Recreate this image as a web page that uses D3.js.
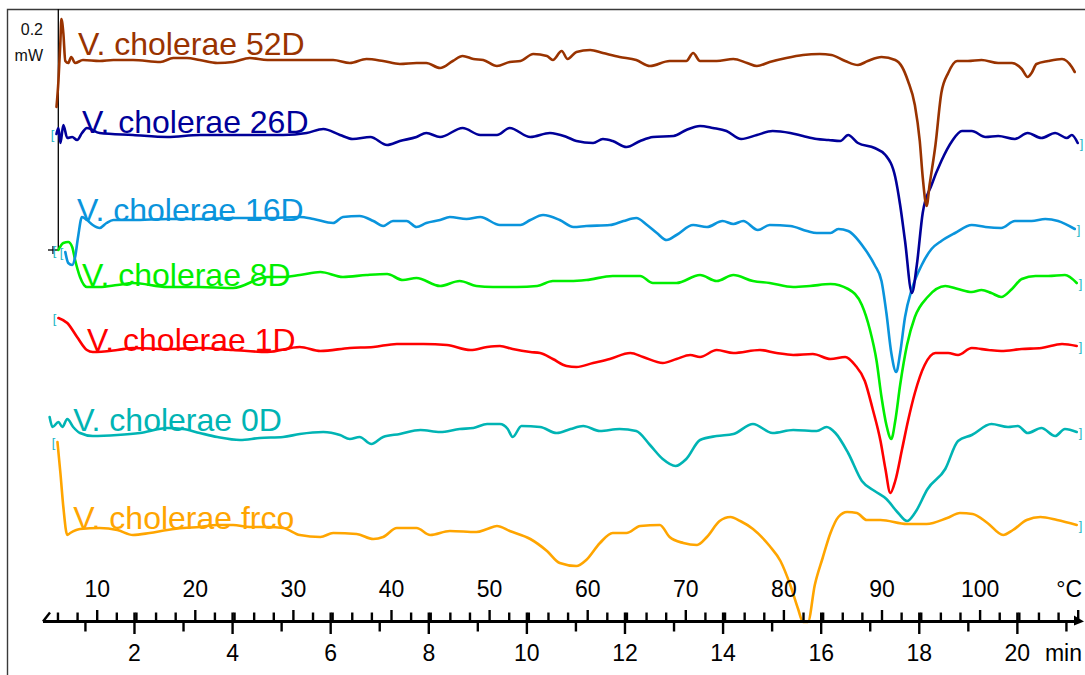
<!DOCTYPE html>
<html>
<head>
<meta charset="utf-8">
<script src="https://cdn.jsdelivr.net/npm/d3@7"></script>
<style>
  html, body { margin: 0; padding: 0; background: #fff; }
  svg { display: block; font-family: "Liberation Sans", Arial, sans-serif; }
</style>
</head>
<body>
<svg id="chart" width="1085" height="675"></svg>
<script>
// DSC heat-flow curves of V. cholerae samples, stacked with vertical offsets.
// Each point: [temperature °C, heat flow µW (offset included)]
const data52D = [[5.9,143],[6.1,169],[6.3,209],[6.4,231],[6.6,217],[6.8,189],[7.1,187],[7.4,193],[7.8,187],[8.6,190],[10.3,189],[11.7,190],[13.7,190],[16.5,188],[17.8,192],[19.2,192],[20.5,190],[22.3,187],[23.9,188],[25.6,192],[27.4,190],[29.0,190],[30.7,190],[32.4,190],[34.1,190],[35.8,187],[37.5,191],[39.2,189],[40.9,186],[42.6,187],[43.6,187],[45.0,182],[46.3,189],[47.3,194],[48.4,191],[49.4,190],[50.8,184],[52.1,188],[53.2,189],[54.5,196],[55.9,194],[56.5,190],[57.4,199],[58.0,191],[58.9,198],[60.3,200],[61.6,197],[63.3,193],[65.0,190],[66.4,184],[68.4,189],[70.1,189],[70.8,197],[71.5,189],[73.2,189],[74.9,191],[76.3,187],[77.3,184],[78.6,188],[80.3,192],[82.0,195],[83.7,196],[84.9,195],[86.3,189],[87.6,185],[88.6,189],[90.0,193],[91.4,190],[92.1,183],[92.7,169],[93.4,145],[93.9,109],[94.2,73],[94.6,44],[94.9,65],[95.5,105],[96.1,157],[96.8,177],[97.7,189],[98.8,189],[100.2,190],[101.9,187],[103.3,187],[104.3,181],[104.9,173],[105.3,177],[105.8,186],[107.0,189],[108.4,191],[109.4,183],[109.7,178]];

const data26D = [[5.9,116],[6.1,122],[6.3,107],[6.6,125],[7.0,112],[7.5,113],[8.0,110],[8.5,117],[9.0,122],[10.3,117],[13.7,115],[17.2,113],[20.5,115],[23.9,115],[29.0,115],[31.4,117],[33.1,121],[34.8,115],[36.1,111],[37.9,113],[39.6,105],[40.9,109],[42.6,113],[43.6,117],[45.0,113],[47.3,122],[49.1,115],[50.8,115],[52.1,122],[54.2,113],[56.2,117],[57.9,113],[58.9,109],[60.6,107],[61.6,111],[62.6,109],[64.0,103],[65.4,109],[66.7,113],[68.8,114],[70.1,120],[71.5,124],[72.8,122],[74.2,119],[75.7,111],[77.3,115],[78.9,119],[80.7,117],[82.0,114],[83.4,111],[84.6,110],[85.8,109],[86.6,115],[87.6,107],[89.3,102],[90.4,95],[91.4,73],[91.9,45],[92.4,9],[93.1,-43],[93.6,-15],[94.2,37],[95.1,65],[96.1,89],[97.2,109],[98.2,119],[99.2,119],[100.6,113],[101.9,114],[103.6,111],[104.9,117],[106.3,112],[107.7,117],[108.9,112],[109.4,115],[110.0,107]];

const data16D = [[6.8,-2],[7.1,-13],[7.5,-15],[7.8,-7],[8.1,13],[8.5,33],[9.0,30],[9.6,25],[10.3,22],[11.0,27],[11.7,30],[13.7,30],[17.2,31],[20.5,31],[23.9,32],[27.4,32],[30.7,33],[32.1,31],[34.1,27],[35.1,33],[36.8,34],[38.2,29],[39.2,24],[40.2,29],[41.6,29],[42.6,23],[43.6,27],[45.0,30],[46.0,33],[47.7,31],[49.1,33],[51.1,25],[53.2,25],[54.2,30],[55.5,35],[57.2,30],[58.6,23],[59.9,24],[62.3,25],[63.7,29],[65.0,32],[66.1,25],[67.1,17],[68.1,10],[69.1,15],[70.8,25],[72.2,23],[73.8,29],[74.9,26],[75.9,29],[77.4,20],[78.6,25],[80.7,24],[82.4,19],[83.4,17],[84.8,17],[85.6,21],[86.6,19],[88.3,1],[89.3,-15],[90.0,-31],[90.5,-63],[91.0,-103],[91.5,-122],[91.9,-103],[92.4,-67],[93.1,-39],[94.1,-15],[95.1,1],[96.1,9],[97.5,17],[99.2,25],[100.6,23],[102.2,22],[103.6,29],[105.3,29],[106.7,31],[108.0,29],[109.7,21]];

const data8D = [[6.1,0],[6.6,7],[7.1,8],[7.5,3],[7.8,-10],[8.3,-27],[9.0,-37],[10.3,-37],[12.1,-35],[13.7,-33],[17.2,-37],[20.5,-37],[23.9,-38],[27.4,-27],[29.0,-27],[30.7,-25],[32.8,-22],[35.1,-27],[37.5,-25],[39.6,-24],[41.2,-30],[42.6,-28],[45.0,-36],[47.0,-31],[48.7,-36],[50.4,-37],[52.8,-37],[54.9,-36],[56.5,-31],[58.3,-31],[59.9,-30],[62.6,-26],[65.4,-26],[66.7,-33],[69.1,-33],[71.5,-25],[73.2,-31],[74.9,-25],[76.9,-31],[78.6,-33],[81.0,-37],[82.7,-36],[84.8,-34],[86.6,-39],[88.0,-55],[88.8,-79],[89.5,-111],[90.0,-147],[90.5,-175],[91.0,-189],[91.4,-171],[91.9,-135],[92.6,-95],[93.4,-67],[94.7,-47],[96.5,-36],[97.8,-39],[99.2,-42],[100.2,-40],[101.2,-43],[102.2,-47],[103.3,-39],[104.3,-29],[105.7,-26],[107.0,-26],[108.7,-25],[109.9,-33]];

const data1D = [[6.1,-68],[7.0,-73],[8.0,-87],[9.0,-100],[9.6,-102],[12.1,-100],[13.7,-98],[17.2,-99],[20.5,-98],[23.9,-100],[27.4,-102],[30.7,-97],[32.8,-101],[35.8,-98],[38.2,-97],[40.6,-94],[43.3,-94],[45.7,-95],[48.1,-100],[49.8,-97],[51.1,-96],[52.4,-99],[54.2,-102],[55.2,-103],[56.5,-109],[57.9,-116],[58.9,-117],[60.6,-113],[62.3,-109],[64.4,-103],[65.7,-107],[67.7,-113],[69.1,-109],[70.5,-105],[71.5,-107],[73.2,-100],[74.9,-103],[77.6,-100],[79.3,-103],[81.0,-105],[83.0,-104],[84.8,-109],[86.3,-107],[87.3,-115],[88.3,-131],[89.1,-159],[89.9,-191],[90.4,-219],[90.9,-243],[91.4,-231],[92.1,-199],[92.7,-171],[93.4,-143],[94.4,-115],[95.5,-103],[96.8,-103],[97.8,-105],[99.2,-98],[100.9,-100],[102.2,-101],[104.3,-99],[106.3,-98],[108.4,-94],[109.9,-96]];

const data0D = [[5.2,-167],[5.5,-177],[6.1,-172],[6.5,-177],[7.0,-169],[7.6,-177],[8.3,-183],[9.6,-186],[12.1,-185],[14.4,-183],[17.2,-178],[18.8,-179],[20.5,-183],[22.3,-187],[24.6,-190],[26.6,-188],[29.0,-187],[30.7,-184],[33.1,-182],[34.8,-185],[35.8,-189],[36.8,-187],[38.0,-194],[39.2,-187],[40.9,-184],[43.0,-180],[45.0,-182],[47.0,-179],[48.4,-178],[49.8,-174],[51.1,-174],[51.9,-179],[52.4,-187],[53.3,-176],[55.2,-177],[56.9,-183],[58.3,-179],[59.6,-176],[61.3,-181],[63.3,-179],[65.0,-181],[66.4,-195],[67.7,-209],[69.0,-216],[70.1,-209],[71.5,-190],[73.2,-186],[74.9,-184],[76.9,-174],[78.9,-183],[81.0,-180],[83.4,-181],[84.4,-177],[85.3,-183],[86.6,-203],[88.0,-231],[89.3,-241],[90.5,-249],[91.7,-263],[92.6,-271],[93.4,-263],[94.7,-239],[96.5,-219],[97.8,-191],[99.2,-185],[101.2,-174],[102.9,-177],[103.9,-176],[104.9,-183],[106.3,-178],[107.7,-186],[108.7,-179],[109.9,-182]];

const dataFrco = [[6.0,-192],[6.3,-223],[6.6,-257],[7.0,-285],[7.3,-283],[8.3,-279],[10.3,-278],[12.1,-280],[13.7,-285],[15.4,-283],[17.2,-280],[18.8,-278],[20.5,-277],[22.3,-275],[23.9,-275],[25.6,-277],[27.4,-277],[29.0,-278],[30.7,-285],[32.8,-287],[34.1,-283],[36.5,-284],[38.2,-289],[39.2,-287],[40.6,-278],[42.6,-278],[44.0,-285],[46.0,-281],[48.7,-282],[49.8,-279],[50.8,-276],[52.1,-281],[54.2,-289],[55.9,-301],[57.2,-313],[58.9,-316],[59.9,-310],[61.3,-293],[62.6,-283],[64.0,-283],[65.4,-276],[67.4,-275],[68.4,-287],[69.8,-293],[71.2,-295],[72.2,-287],[73.5,-271],[74.6,-267],[75.6,-271],[76.9,-279],[78.6,-296],[79.7,-311],[80.7,-335],[81.5,-359],[82.0,-372],[82.5,-372],[83.2,-335],[84.0,-308],[84.8,-283],[85.6,-267],[86.5,-262],[87.5,-263],[88.5,-270],[89.9,-270],[92.6,-274],[94.6,-274],[96.7,-268],[98.0,-263],[99.3,-264],[100.8,-273],[102.4,-285],[103.4,-280],[104.8,-270],[106.2,-267],[107.9,-270],[109.9,-275]];

const seriesNames  = ["V. cholerae 52D", "V. cholerae 26D", "V. cholerae 16D", "V. cholerae 8D", "V. cholerae 1D", "V. cholerae 0D", "V. cholerae frco"];
const seriesData   = [data52D, data26D, data16D, data8D, data1D, data0D, dataFrco];
const seriesColors = ["#993300", "#000099", "#0a94dc", "#00ee00", "#ff0000", "#00b4b4", "#ffa500"];
// where each sample name sits: [°C, µW]
const labelAnchors = [[8.1,195], [8.5,117], [8.0,29], [8.5,-36], [9.0,-101], [7.6,-181], [7.6,-279]];
// start "[" and end "]" markers of each run
const startMarks = [false, true, true, true, true, false, true];
const endMarks   = [false, true, true, true, true, true, true];

// axis ticks
const tempTicks  = d3.range(6, 111, 2);          // °C
const tempLabels = [10, 20, 30, 40, 50, 60, 70, 80, 90, 100];
const timeTicks  = d3.range(1, 22);              // min
const timeLabels = [2, 4, 6, 8, 10, 12, 14, 16, 18, 20];
const startTemp = 3.8;   // °C at t = 0
const heatingRate = 5;   // K/min

const svg = d3.select("#chart");

const x = d3.scaleLinear().domain([40, 100]).range([391, 979.6]);
const xTime = d3.scaleLinear().domain([0, 20]).range([x(startTemp), x(startTemp + 20 * heatingRate)]);
const y = d3.scaleLinear().domain([0, -400]).range([250, 650]);

// frame
svg.append("path")
  .attr("d", "M7.5,675 V9.5 H1085")
  .attr("fill", "none").attr("stroke", "#3a3a3a").attr("stroke-width", 1.4);

// heat-flow scale bar
svg.append("line").attr("x1", 58.3).attr("x2", 58.3).attr("y1", 9).attr("y2", y(0))
  .attr("stroke", "#000").attr("stroke-width", 1.3);
svg.append("line").attr("x1", 48).attr("x2", 58.3).attr("y1", y(0)).attr("y2", y(0))
  .attr("stroke", "#000").attr("stroke-width", 1.3);
svg.append("line").attr("x1", 53).attr("x2", 53).attr("y1", y(0) - 4).attr("y2", y(0) + 4)
  .attr("stroke", "#000").attr("stroke-width", 1.3);
svg.append("text").attr("x", 43).attr("y", 35).attr("text-anchor", "end")
  .attr("font-size", 16).attr("fill", "#111").text("0.2");
svg.append("text").attr("x", 43).attr("y", 61).attr("text-anchor", "end")
  .attr("font-size", 16).attr("fill", "#111").text("mW");

// curves (lowest first so upper traces sit on top)
const line = d3.line()
  .x(d => x(d[0]))
  .y(d => y(d[1]))
  .curve(d3.curveMonotoneX);

const order = d3.range(seriesData.length).reverse();
svg.append("g").selectAll("path")
  .data(order)
  .join("path")
  .attr("d", i => line(seriesData[i]))
  .attr("fill", "none")
  .attr("stroke", i => seriesColors[i])
  .attr("stroke-width", 2.6)
  .attr("stroke-linejoin", "round")
  .attr("stroke-linecap", "round");

// start / end brackets
const bracketColor = "#1ab4c4";
const br = svg.append("g").attr("font-size", 13).attr("fill", bracketColor);
seriesData.forEach((d, i) => {
  const first = d[0], last = d[d.length - 1];
  if (startMarks[i]) {
    br.append("text").attr("x", x(first[0]) - 2).attr("y", y(first[1]) + 4.5)
      .attr("text-anchor", "end").text("[");
  }
  if (endMarks[i]) {
    br.append("text").attr("x", x(last[0]) + 2).attr("y", y(last[1]) + 4.5)
      .attr("text-anchor", "start").text("]");
  }
});

// sample names
svg.append("g").selectAll("text")
  .data(seriesNames)
  .join("text")
  .attr("x", (d, i) => x(labelAnchors[i][0]))
  .attr("y", (d, i) => y(labelAnchors[i][1]))
  .attr("font-size", 32)
  .attr("fill", (d, i) => seriesColors[i])
  .text(d => d);

// combined temperature / time axis
const axisY = 621.5;
const ax = svg.append("g").attr("transform", `translate(0,${axisY})`);

const tempAxis = d3.axisTop(x)
  .tickValues(tempTicks)
  .tickSizeInner(9).tickSizeOuter(0)
  .tickFormat(d => tempLabels.includes(d) ? d : "");
const gT = ax.append("g").call(tempAxis);
gT.select(".domain").remove();
gT.selectAll(".tick line")
  .attr("y2", d => d % 10 === 0 ? -11.5 : -9)
  .attr("stroke", "#000").attr("stroke-width", 2.4);
gT.selectAll(".tick text")
  .attr("y", -25).attr("dy", 0)
  .attr("font-size", 23).attr("font-family", "Liberation Sans, Arial, sans-serif").attr("fill", "#000");

const timeAxis = d3.axisBottom(xTime)
  .tickValues(timeTicks)
  .tickSizeInner(10).tickSizeOuter(0)
  .tickFormat(d => timeLabels.includes(d) ? d : "");
const gM = ax.append("g").call(timeAxis);
gM.select(".domain").remove();
gM.selectAll(".tick line")
  .attr("y1", d => d % 2 === 0 ? -9 : 0)
  .attr("y2", d => d % 2 === 0 ? 12.5 : 10)
  .attr("stroke", "#000").attr("stroke-width", 2.4);
gM.selectAll(".tick text")
  .attr("y", 39.5).attr("dy", 0)
  .attr("font-size", 23).attr("font-family", "Liberation Sans, Arial, sans-serif").attr("fill", "#000");

// axis line with its end marks
ax.append("line").attr("x1", 43).attr("x2", 1080).attr("y1", 0).attr("y2", 0)
  .attr("stroke", "#000").attr("stroke-width", 3);
ax.append("path").attr("d", "M43,0 L50,-9").attr("stroke", "#000").attr("stroke-width", 2.4).attr("fill", "none");
ax.append("path").attr("d", "M1074,-6 L1084,0 L1074,4 Z").attr("fill", "#000");

// units
ax.append("text").attr("x", 1082).attr("y", -25).attr("text-anchor", "end")
  .attr("font-size", 23).attr("fill", "#000").text("°C");
ax.append("text").attr("x", 1082).attr("y", 39.5).attr("text-anchor", "end")
  .attr("font-size", 23).attr("fill", "#000").text("min");
</script>
</body>
</html>
